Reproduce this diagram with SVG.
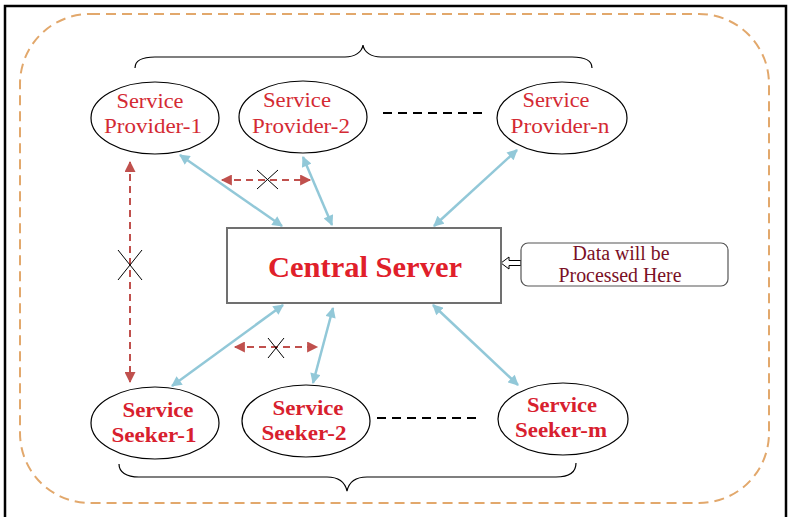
<svg xmlns="http://www.w3.org/2000/svg" width="791" height="517" viewBox="0 0 791 517">
<style>
.frame{fill:none;stroke:#000;stroke-width:2.5}
.outer{fill:none;stroke:#E2A86C;stroke-width:2;stroke-dasharray:10 6}
.brace{fill:none;stroke:#000;stroke-width:1.2}
.node{fill:#fff;stroke:#000;stroke-width:1.2}
.prov{font-family:"Liberation Serif",serif;font-size:21px;fill:#D42A33;text-anchor:middle}
.seek{font-family:"Liberation Serif",serif;font-size:22px;font-weight:bold;fill:#D8202E;text-anchor:middle}
.blue{stroke:#92C8D8;stroke-width:2.5;fill:none;marker-start:url(#bh);marker-end:url(#bh)}
.red{stroke:#C0504D;stroke-width:2;fill:none;stroke-dasharray:7 5;marker-start:url(#rh);marker-end:url(#rh)}
.xm{stroke:#000;stroke-width:1;fill:none}
.dots{stroke:#000;stroke-width:2;stroke-dasharray:9 6;fill:none}
.note{font-family:"Liberation Serif",serif;font-size:20px;fill:#7A1026;text-anchor:middle}
</style>
<defs>
<marker id="bh" viewBox="0 0 10 10" refX="9" refY="5" markerWidth="4.6" markerHeight="4.2" orient="auto-start-reverse" markerUnits="strokeWidth"><path d="M0,0 L10,5 L0,10 z" fill="#92C8D8"/></marker>
<marker id="rh" viewBox="0 0 10 10" refX="9" refY="5" markerWidth="6" markerHeight="5.5" orient="auto-start-reverse" markerUnits="strokeWidth"><path d="M0,0 L10,5 L0,10 z" fill="#C0504D"/></marker>
</defs>
<rect width="791" height="517" fill="#fff"/>
<path class="frame" d="M5,525 V6 H786 V525"/>
<rect class="outer" x="20" y="14" width="749" height="489" rx="70" ry="70"/>
<path class="brace" d="M135,68 C135,60 142,57 155,57 H345 C355,57 362,52 363,45 C364,52 371,57 381,57 H572 C585,57 592,60 592,68"/>
<path class="brace" d="M119,464 C119,472 126,477 139,477 H327 C338,477 345,482 347,491 C349,482 356,477 367,477 H556 C569,477 576,472 576,463"/>
<g id="connectors">
<line class="blue" x1="180" y1="155" x2="282" y2="226"/>
<line class="blue" x1="303" y1="157" x2="332" y2="225"/>
<line class="blue" x1="517" y1="150" x2="434" y2="226"/>
<line class="blue" x1="172" y1="386" x2="283" y2="305"/>
<line class="blue" x1="313" y1="383" x2="333" y2="308"/>
<line class="blue" x1="433" y1="305" x2="518" y2="385"/>
<line class="red" x1="222" y1="180" x2="310" y2="180"/>
<line class="red" x1="130" y1="162" x2="130" y2="382"/>
<line class="red" x1="235" y1="347" x2="317" y2="347"/>
<path class="xm" d="M257,170 L278,189 M257,189 L278,170"/>
<path class="xm" d="M118,250 L142,280 M118,280 L142,250"/>
<path class="xm" d="M268,338 L284,358 M268,358 L284,338"/>
<line class="dots" x1="383" y1="113" x2="485" y2="113"/>
<line class="dots" x1="377" y1="418" x2="478" y2="418"/>
<path d="M521,260.5 H509 V257 L501,263 L509,269 V265.5 H521 Z" fill="#fff" stroke="#000" stroke-width="1"/>
</g>
<g id="sp1"><ellipse class="node" cx="155" cy="118" rx="64" ry="36"/><text class="prov" x="150" y="108" textLength="67" lengthAdjust="spacingAndGlyphs">Service</text><text class="prov" x="153" y="133" textLength="98" lengthAdjust="spacingAndGlyphs">Provider-1</text></g>
<g id="sp2"><ellipse class="node" cx="303" cy="117" rx="64" ry="36"/><text class="prov" x="297" y="107" textLength="68" lengthAdjust="spacingAndGlyphs">Service</text><text class="prov" x="301" y="133" textLength="98" lengthAdjust="spacingAndGlyphs">Provider-2</text></g>
<g id="spn"><ellipse class="node" cx="562" cy="118" rx="65" ry="36"/><text class="prov" x="556" y="107" textLength="67" lengthAdjust="spacingAndGlyphs">Service</text><text class="prov" x="560" y="133" textLength="99" lengthAdjust="spacingAndGlyphs">Provider-n</text></g>
<g id="ss1"><ellipse class="node" cx="155" cy="423" rx="64" ry="36"/><text class="seek" x="158" y="417" textLength="71" lengthAdjust="spacingAndGlyphs">Service</text><text class="seek" x="154" y="442" textLength="85" lengthAdjust="spacingAndGlyphs">Seeker-1</text></g>
<g id="ss2"><ellipse class="node" cx="306" cy="421" rx="64" ry="36"/><text class="seek" x="308" y="415" textLength="71" lengthAdjust="spacingAndGlyphs">Service</text><text class="seek" x="304" y="440" textLength="85" lengthAdjust="spacingAndGlyphs">Seeker-2</text></g>
<g id="ssm"><ellipse class="node" cx="563" cy="419" rx="65" ry="36"/><text class="seek" x="562" y="412" textLength="70" lengthAdjust="spacingAndGlyphs">Service</text><text class="seek" x="561" y="437" textLength="92" lengthAdjust="spacingAndGlyphs">Seeker-m</text></g>
<g id="server"><rect x="227" y="228" width="274" height="75" fill="#fff" stroke="#707070" stroke-width="2"/><text x="365" y="277" font-family="'Liberation Serif',serif" font-size="30" font-weight="bold" fill="#E0202A" text-anchor="middle" textLength="194" lengthAdjust="spacingAndGlyphs">Central Server</text></g>
<g id="note"><rect x="521" y="243" width="207" height="43" rx="7" fill="#fff" stroke="#555" stroke-width="1.2"/><text class="note" x="621" y="260" textLength="97" lengthAdjust="spacingAndGlyphs">Data will be</text><text class="note" x="620" y="282" textLength="123" lengthAdjust="spacingAndGlyphs">Processed Here</text></g>
</svg>
